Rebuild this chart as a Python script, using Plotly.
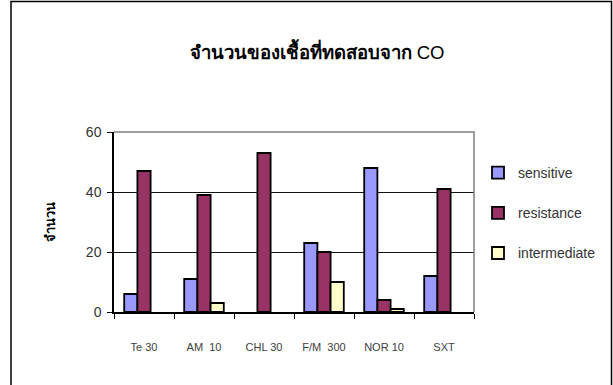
import plotly.graph_objects as go

# ---- data ----
categories = ["Te 30", "AM\u00a0\u00a010", "CHL 30", "F/M\u00a0\u00a0300", "NOR 10", "SXT"]
sensitive = [6, 11, 0, 23, 48, 12]
resistance = [47, 39, 53, 20, 4, 41]
intermediate = [0, 3, 0, 10, 1, 0]
series_names = ["sensitive", "resistance", "intermediate"]
series_colors = ["#9999FF", "#993366", "#FFFFCC"]
y_ticks = [0, 20, 40, 60]
title_thai = "จำนวนของเชื้อที่ทดสอบจาก"
title_latin = "CO"
y_title = "จำนวน"

FONT = "Liberation Sans, Arial, Noto Sans, sans-serif"

fig = go.Figure()
for name, vals, col in zip(series_names, [sensitive, resistance, intermediate], series_colors):
    fig.add_trace(go.Bar(
        x=categories, y=[v if v else None for v in vals], name=name,
        marker=dict(color=col, line=dict(color="black", width=1.8)),
        legendgroup=name,
    ))

W, H = 613, 385
L, R, T, B = 114, 474, 132, 312
pw, ph = R - L, B - T

fig.update_layout(
    width=W, height=H, autosize=False,
    margin=dict(l=L, r=W - R, t=T, b=H - B, pad=0, autoexpand=False),
    paper_bgcolor="white", plot_bgcolor="white",
    barmode="group", bargap=0.34, bargroupgap=0,
    font=dict(family=FONT, color="#333333"),
    title=dict(text="<b>" + title_thai + "</b> " + title_latin, x=317 / W, xref="container",
               xanchor="center", y=1 - 53 / H, yref="container", yanchor="middle",
               font=dict(size=18.5, color="black", family=FONT)),
    showlegend=True,
    legend=dict(x=(478 - L) / pw, xanchor="left", y=(B - 157) / ph, yanchor="top",
                font=dict(size=14, color="#333333", family=FONT),
                tracegroupgap=19, itemwidth=30, bgcolor="rgba(0,0,0,0)"),
    xaxis=dict(showline=True, linecolor="black", linewidth=1.5,
               ticks="outside", tickson="boundaries", ticklen=5, tickcolor="black",
               tickfont=dict(size=11, color="#404040"), ticklabelstandoff=24,
               showgrid=False, zeroline=False, fixedrange=True),
    yaxis=dict(range=[0, 60], tickvals=y_ticks, showline=True, linecolor="black", linewidth=1.5,
               ticks="outside", ticklen=5, tickcolor="black",
               tickfont=dict(size=14, color="#333333"), ticklabelstandoff=3,
               showgrid=True, gridcolor="#111111", gridwidth=1, zeroline=False, fixedrange=True),
)

# y axis title (rotated)
fig.add_annotation(text="<b>" + y_title + "</b>", textangle=-90, xref="paper", yref="paper",
                   x=(50 - L) / pw, y=0.5, xanchor="center", yanchor="middle", showarrow=False,
                   font=dict(size=13, color="black", family=FONT))

# plot-area border (gray, top and right)
fig.add_shape(type="path", path="M 0,1 L 1,1 L 1,0", xref="paper", yref="paper",
              line=dict(color="#808080", width=1.5), layer="above")
# chart-area border (black)
fig.add_shape(type="rect", xref="paper", yref="paper",
              x0=(11 - L) / pw, x1=(611.5 - L) / pw,
              y0=(B - 400) / ph, y1=(B - 1.5) / ph,
              line=dict(color="black", width=1.5), fillcolor="rgba(0,0,0,0)", layer="above")

fig.write_html("out.html")
